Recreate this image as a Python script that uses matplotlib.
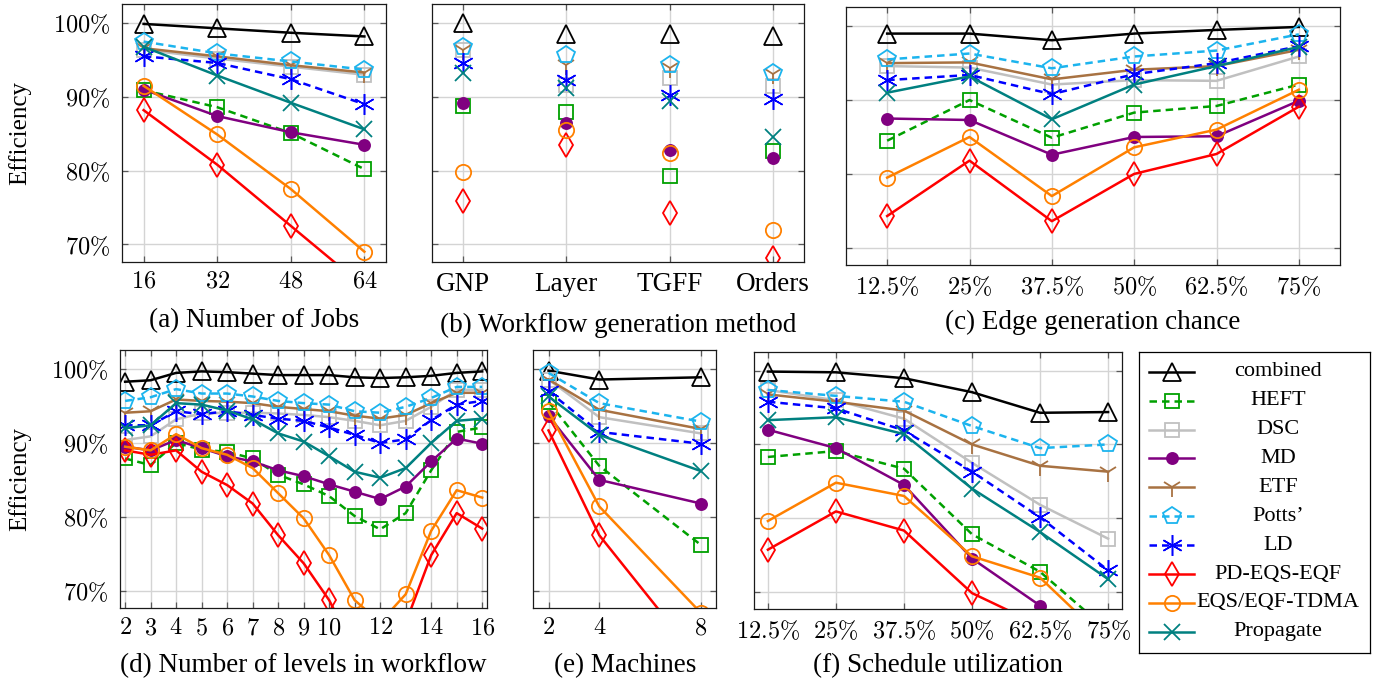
import numpy as np
import matplotlib.pyplot as plt

plt.rcParams['font.family'] = ['Liberation Serif', 'DejaVu Serif']
plt.rcParams['mathtext.fontset'] = 'cm'

# methods and their look (legend order = drawing order)
methods = ['combined', 'HEFT', 'DSC', 'MD', 'ETF', 'Potts’', 'LD',
           'PD-EQS-EQF', 'EQS/EQF-TDMA', 'Propagate']
colors = ['black', '#00a000', '#c0c0c0', '#800080', '#a87242', '#1cb4ee',
          '#0000ff', '#ff0000', '#ff8000', '#008080']
markers = ['^', 's', 's', 'o', '1', 'p', (6, 2, 0), 'd', 'o', 'x']
msizes = [12.5, 10.5, 10.5, 8, 15, 13, 15, 12.5, 11, 11]
filled = [False, False, False, True, False, False, False, False, False, False]
lstyles = ['-', '--', '-', '-', '-', '--', '--', '-', '-', '-']

# (a) number of jobs
jobs_x = [16, 32, 48, 64]
jobs_eff = {
    'combined':     [99.9, 99.3, 98.7, 98.2],
    'HEFT':         [90.9, 88.6, 85.1, 80.2],
    'DSC':          [96.4, 95.2, 94.1, 93.0],
    'MD':           [91.0, 87.4, 85.2, 83.5],
    'ETF':          [96.6, 95.5, 94.3, 93.3],
    'Potts’':       [97.5, 95.9, 94.8, 93.7],
    'LD':           [95.5, 94.6, 92.4, 89.0],
    'PD-EQS-EQF':   [88.2, 80.8, 72.5, 64.2],
    'EQS/EQF-TDMA': [91.5, 84.9, 77.5, 69.0],
    'Propagate':    [96.8, 92.9, 89.2, 85.6],
}

# (b) workflow generation method
gen_labels = ['GNP', 'Layer', 'TGFF', 'Orders']
gen_eff = {
    'combined':     [100.0, 98.5, 98.5, 98.3],
    'HEFT':         [88.8, 88.0, 79.3, 82.6],
    'DSC':          [96.4, 91.6, 92.5, 91.5],
    'MD':           [89.2, 86.4, 82.8, 81.7],
    'ETF':          [96.4, 94.3, 93.9, 93.1],
    'Potts’':       [96.8, 95.7, 94.3, 93.3],
    'LD':           [94.6, 92.3, 90.3, 89.7],
    'PD-EQS-EQF':   [75.9, 83.5, 74.2, 68.1],
    'EQS/EQF-TDMA': [79.8, 85.5, 82.4, 72.0],
    'Propagate':    [93.2, 91.2, 89.4, 84.5],
}

# (c) edge generation chance
edge_labels = ['12.5%', '25%', '37.5%', '50%', '62.5%', '75%']
edge_eff = {
    'combined':     [99.0, 99.0, 98.1, 99.0, 99.5, 99.9],
    'HEFT':         [84.5, 90.0, 84.9, 88.3, 89.2, 92.1],
    'DSC':          [94.6, 94.4, 92.1, 92.7, 92.6, 95.9],
    'MD':           [87.5, 87.3, 82.6, 85.0, 85.1, 89.9],
    'ETF':          [95.0, 95.1, 92.8, 94.1, 94.6, 96.8],
    'Potts’':       [95.5, 96.3, 94.3, 95.9, 96.7, 98.9],
    'LD':           [92.7, 93.4, 90.8, 93.5, 95.0, 97.3],
    'PD-EQS-EQF':   [74.3, 81.8, 73.6, 80.0, 82.7, 89.1],
    'EQS/EQF-TDMA': [79.5, 85.0, 77.0, 83.6, 86.0, 91.4],
    'Propagate':    [91.0, 93.2, 87.4, 92.1, 94.6, 97.2],
}

# (d) number of levels in workflow
levels_x = list(range(2, 17))
levels_eff = {
    'combined':     [98.3, 98.5, 99.5, 99.7, 99.6, 99.4, 99.2, 99.2, 99.2, 98.9, 98.8, 98.9, 99.1, 99.5, 99.7],
    'HEFT':         [87.9, 87.0, 90.0, 89.1, 88.8, 87.9, 85.7, 84.4, 82.8, 80.1, 78.3, 80.5, 86.3, 91.5, 92.1],
    'DSC':          [90.4, 90.9, 93.2, 94.0, 94.1, 94.1, 94.0, 93.8, 93.5, 93.0, 92.4, 93.0, 94.9, 97.2, 97.2],
    'MD':           [89.5, 89.0, 90.4, 89.3, 88.2, 87.5, 86.3, 85.5, 84.4, 83.4, 82.4, 84.1, 87.5, 90.6, 89.9],
    'ETF':          [94.1, 94.3, 95.9, 95.7, 95.6, 95.4, 94.9, 94.6, 94.3, 93.7, 93.3, 93.8, 95.4, 96.8, 96.8],
    'Potts’':       [95.7, 96.2, 97.3, 96.7, 96.7, 96.3, 95.7, 95.4, 95.2, 94.3, 94.1, 94.9, 96.1, 97.6, 97.6],
    'LD':           [92.4, 92.4, 94.3, 93.9, 94.3, 93.8, 93.3, 93.0, 92.1, 91.1, 90.0, 90.5, 93.1, 95.2, 95.7],
    'PD-EQS-EQF':   [89.0, 88.4, 89.0, 86.1, 84.3, 81.8, 77.5, 73.7, 68.7, 62.0, 60.5, 65.6, 74.8, 80.5, 78.4],
    'EQS/EQF-TDMA': [89.5, 89.0, 91.2, 89.3, 88.4, 86.6, 83.2, 79.8, 74.8, 68.7, 65.7, 69.5, 78.1, 83.6, 82.6],
    'Propagate':    [92.0, 92.4, 95.4, 95.2, 94.4, 93.2, 91.3, 90.2, 88.2, 86.1, 85.3, 86.6, 90.0, 93.0, 93.3],
}

# (e) machines
mach_x = [2, 4, 8]
mach_eff = {
    'combined':     [99.8, 98.6, 98.9],
    'HEFT':         [95.6, 86.9, 76.2],
    'DSC':          [98.6, 93.5, 91.3],
    'MD':           [93.7, 85.0, 81.8],
    'ETF':          [98.6, 94.5, 91.9],
    'Potts’':       [99.5, 95.4, 92.9],
    'LD':           [97.0, 91.5, 89.9],
    'PD-EQS-EQF':   [91.7, 77.5, 60.3],
    'EQS/EQF-TDMA': [94.3, 81.4, 67.0],
    'Propagate':    [96.3, 91.1, 86.2],
}

# (f) schedule utilization
util_labels = ['12.5%', '25%', '37.5%', '50%', '62.5%', '75%']
util_eff = {
    'combined':     [99.9, 99.8, 99.0, 97.1, 94.3, 94.4],
    'HEFT':         [88.3, 89.1, 86.7, 77.8, 72.7, 64.7],
    'DSC':          [97.4, 96.0, 93.5, 87.5, 81.8, 77.2],
    'MD':           [92.0, 89.5, 84.5, 74.5, 68.1, 60.0],
    'ETF':          [96.8, 95.8, 94.6, 90.0, 87.1, 86.3],
    'Potts’':       [97.4, 96.6, 95.8, 92.5, 89.5, 90.0],
    'LD':           [95.8, 94.9, 91.9, 86.3, 80.1, 72.9],
    'PD-EQS-EQF':   [75.7, 80.9, 78.3, 69.8, 65.4, 60.0],
    'EQS/EQF-TDMA': [79.6, 84.8, 83.0, 74.8, 71.9, 63.1],
    'Propagate':    [93.3, 93.7, 91.4, 84.0, 78.1, 71.7],
}

yticks = [70, 80, 90, 100]
ylim = (67.6, 102.6)
W, H = 1385, 684
TICK_FS = 17.5
LW = 1.8


def box(l, t, r, b):
    # pixel box -> figure fraction rect
    return [l / W, 1 - b / H, (r - l) / W, (b - t) / H]


def style_ax(ax, ylabels):
    ax.set_ylim(*ylim)
    ax.set_yticks(yticks)
    if ylabels:
        ax.set_yticklabels([r'$%d\%%$' % v for v in yticks], fontsize=TICK_FS)
    else:
        ax.set_yticklabels([])
    ax.grid(True, color='#d4d4d4', lw=1.0)
    ax.set_axisbelow(True)
    ax.tick_params(direction='in', length=4, width=0.9, color='0.35',
                   top=True, right=True)
    ax.tick_params(axis='y', pad=8.5)
    ax.tick_params(axis='x', pad=7)
    for s in ax.spines.values():
        s.set_linewidth(0.9)
        s.set_color('0.1')


def line_kw(i, lines=True):
    kw = dict(color=colors[i], lw=LW, marker=markers[i], ms=msizes[i],
              mew=1.3 if markers[i] != (6, 2, 0) else 1.1,
              mfc=colors[i] if filled[i] else 'none', mec=colors[i])
    if not lines:
        kw['ls'] = 'none'
    elif lstyles[i] == '--':
        kw['ls'] = (0, (3, 2))
    else:
        kw['ls'] = '-'
    return kw


def draw(ax, x, data, lines=True):
    for i, m in enumerate(methods):
        ax.plot(x, data[m], **line_kw(i, lines))


fig = plt.figure(figsize=(W / 100, H / 100), dpi=100)

# (a)
ax = fig.add_axes(box(122, 4, 386, 262))
draw(ax, jobs_x, jobs_eff)
style_ax(ax, True)
ax.set_xlim(11.3, 68.7)
ax.set_xticks(jobs_x)
ax.set_xticklabels([r'$%d$' % v for v in jobs_x], fontsize=TICK_FS)

# (b)
ax = fig.add_axes(box(432, 4, 804, 262))
draw(ax, range(len(gen_labels)), gen_eff, lines=False)
style_ax(ax, False)
ax.set_xlim(-0.3, 3.3)
ax.set_xticks(range(len(gen_labels)))
ax.set_xticklabels(gen_labels, fontsize=19.5)

# (c)
ax = fig.add_axes(box(846, 7, 1340, 265.5))
draw(ax, range(len(edge_labels)), edge_eff)
style_ax(ax, False)
ax.set_xlim(-0.5, 5.5)
ax.set_xticks(range(len(edge_labels)))
ax.set_xticklabels([r'$%s$' % s.replace('%', r'\%') for s in edge_labels], fontsize=TICK_FS)

# (d)
ax = fig.add_axes(box(120, 350, 487.3, 608.3))
draw(ax, levels_x, levels_eff)
style_ax(ax, True)
ax.set_xlim(1.8, 16.2)
ax.set_xticks(levels_x)
ax.set_xticklabels([r'$%d$' % v if (v <= 10 or v % 2 == 0) else '' for v in levels_x],
                   fontsize=TICK_FS)

# (e)
ax = fig.add_axes(box(533.3, 350, 716, 608.3))
draw(ax, mach_x, mach_eff)
style_ax(ax, False)
ax.set_xlim(1.4, 8.6)
ax.set_xticks(mach_x)
ax.set_xticklabels([r'$%d$' % v for v in mach_x], fontsize=TICK_FS)

# (f)
ax = fig.add_axes(box(754.3, 351.7, 1121.7, 609.3))
draw(ax, range(len(util_labels)), util_eff)
style_ax(ax, False)
ax.set_xlim(-0.2, 5.2)
ax.set_xticks(range(len(util_labels)))
ax.set_xticklabels([r'$%s$' % s.replace('%', r'\%') for s in util_labels], fontsize=TICK_FS)

# captions and y labels
caps = [('(a) Number of Jobs', 254, 327), ('(b) Workflow generation method', 618, 332),
        ('(c) Edge generation chance', 1093, 329), ('(d) Number of levels in workflow', 303, 672),
        ('(e) Machines', 625, 672), ('(f) Schedule utilization', 938, 672)]
for txt, cx, by in caps:
    fig.text(cx / W, 1 - by / H, txt, ha='center', va='baseline', fontsize=19.5)
for cy in [133, 479]:
    fig.text(20 / W, 1 - cy / H, 'Efficiency', rotation=90, ha='center', va='center', fontsize=18)

# legend box drawn by hand so the labels sit centred
lax = fig.add_axes(box(1139.3, 352.3, 1370, 652.7))
lax.set_xlim(0, 230.7)
lax.set_ylim(300.4, 0)
lax.set_xticks([])
lax.set_yticks([])
for s in lax.spines.values():
    s.set_linewidth(0.9)
for i, m in enumerate(methods):
    y = 19.4 + 28.9 * i
    lax.plot([10, 32.4, 54.7], [y, y, y], markevery=[1], **line_kw(i))
    lax.text(139, y, m, ha='center', va='center', fontsize=16)

fig.savefig('out.png', dpi=100)
